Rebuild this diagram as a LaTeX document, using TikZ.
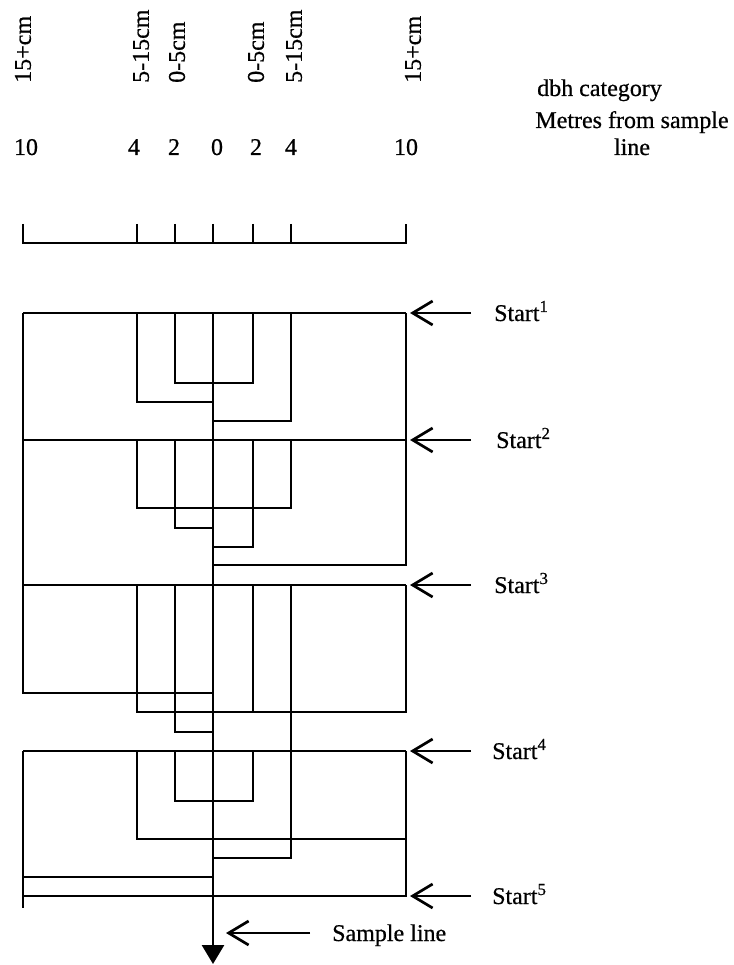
\documentclass[tikz,border=0pt]{standalone}
\usepackage{fontspec}
\setmainfont[FakeBold=0.6,BoldFont={Liberation Serif}]{Liberation Serif}
\usetikzlibrary{arrows.meta}
\begin{document}
\begin{tikzpicture}[x=1pt,y=-1pt,
  ln/.style={line width=2.7pt, line join=miter},
  lbl/.style={font=\fontsize{24}{27}\selectfont\bfseries, inner sep=0pt},
  cat/.style={lbl, rotate=90, anchor=west},
  num/.style={lbl, anchor=base},
  ptr/.style={line width=2.7pt, -{Straight Barb[length=20pt,width=24pt,line width=2.7pt]}},
]
\useasboundingbox (0,0) rectangle (733,965);

% dbh category labels
\node[cat] (c1) at (23,83) {15+cm};
\node[cat] (c2) at (141,83) {5-15cm};
\node[cat] (c3) at (177,83) {0-5cm};
\node[cat] (c4) at (256,83) {0-5cm};
\node[cat] (c5) at (294,83) {5-15cm};
\node[cat] (c6) at (413,83) {15+cm};
\node[lbl, anchor=base west] (dbh) at (537,96) {dbh category};

% metres
\node[num] (n1) at (26,155) {10};
\node[num] (n2) at (134,155) {4};
\node[num] (n3) at (174,155) {2};
\node[num] (n4) at (217,155) {0};
\node[num] (n5) at (256,155) {2};
\node[num] (n6) at (291,155) {4};
\node[num] (n7) at (406,155) {10};
\node[lbl, anchor=base, align=center] (met) at (632,155) {Metres from sample\\line};

% ruler
\draw[ln] (23,224) -- (23,243) -- (406,243) -- (406,224);
\foreach \x in {137,175,213,253,291} \draw[ln] (\x,224) -- (\x,243);

% section 1
\draw[ln] (23,313) -- (406,313);
\draw[ln] (23,313) -- (23,693) -- (213,693);
\draw[ln] (406,313) -- (406,565) -- (213,565);
\draw[ln] (175,313) -- (175,383) -- (253,383) -- (253,313);
\draw[ln] (137,313) -- (137,402) -- (213,402);
\draw[ln] (291,313) -- (291,421) -- (213,421);

% section 2
\draw[ln] (23,440) -- (406,440);
\draw[ln] (137,440) -- (137,508) -- (291,508) -- (291,440);
\draw[ln] (175,440) -- (175,528) -- (213,528);
\draw[ln] (253,440) -- (253,547) -- (213,547);

% section 3
\draw[ln] (23,585) -- (406,585);
\draw[ln] (137,585) -- (137,712) -- (406,712) -- (406,585);
\draw[ln] (175,585) -- (175,732) -- (213,732);
\draw[ln] (253,585) -- (253,712);
\draw[ln] (291,585) -- (291,858) -- (213,858);

% section 4
\draw[ln] (23,751) -- (406,751);
\draw[ln] (23,751) -- (23,908);
\draw[ln] (23,877) -- (213,877);
\draw[ln] (175,751) -- (175,801) -- (253,801) -- (253,751);
\draw[ln] (137,751) -- (137,839) -- (406,839);
\draw[ln] (406,751) -- (406,896) -- (23,896);

% sample line
\coordinate (top) at (213,313);
\coordinate (bot) at (213,964);
\draw[line width=2.7pt, -{Triangle[length=19pt,width=22pt]}] (top) -- (bot);

% start labels and arrows
\foreach \i/\y/\lx in {1/313/494, 2/440/496, 3/585/494, 4/751/492, 5/896/492}{
  \node[lbl, anchor=base west] (s\i) at (\lx,\y+8) {Start\textsuperscript{\i}};
  \coordinate (a\i) at (471,\y);
  \coordinate (b\i) at (410,\y);
  \draw[ptr] (a\i) -- (b\i);
}
\node[lbl, anchor=base west] (sl) at (332,941) {Sample line};
\coordinate (sa) at (310,933);
\coordinate (sb) at (226,933);
\draw[ptr] (sa) -- (sb);
\end{tikzpicture}
\end{document}
